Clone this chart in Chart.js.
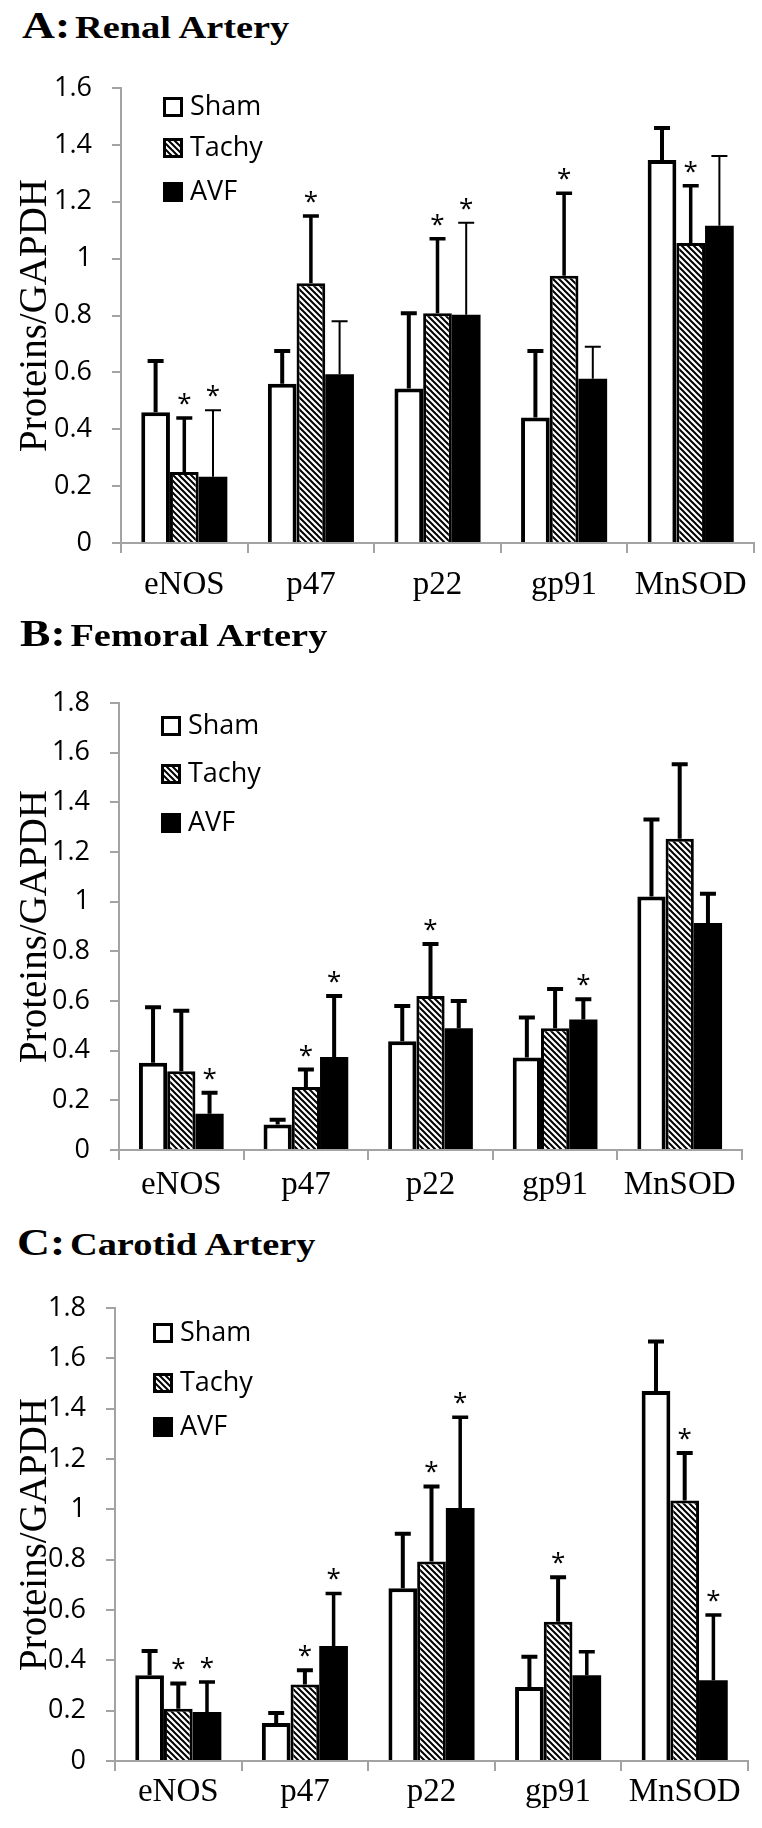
<!DOCTYPE html>
<html>
<head>
<meta charset="utf-8">
<script src="https://cdn.jsdelivr.net/npm/chart.js@4.4.1/dist/chart.umd.min.js"></script>
<style>
    body { margin: 0; background: #fff; width: 762px; height: 1828px; position: relative; overflow: hidden; }
    .title { position: absolute; font-family: "Liberation Serif", serif; font-weight: bold; white-space: nowrap; line-height: 38px; transform: scaleX(1.2); transform-origin: 0 0; }
    .title .tag { font-size: 38px; }
    .title .name { font-size: 32px; }
    canvas { position: absolute; left: 0; }
</style>
</head>
<body>
<div class="title" style="left:22px; top:6px"><span class="tag">A:</span> <span class="name">Renal Artery</span></div>
<canvas id="renal" width="762" height="570" style="top:50px"></canvas>
<div class="title" style="left:20px; top:614px"><span class="tag">B:</span> <span class="name">Femoral Artery</span></div>
<canvas id="femoral" width="762" height="560" style="top:660px"></canvas>
<div class="title" style="left:17px; top:1223px"><span class="tag">C:</span> <span class="name">Carotid Artery</span></div>
<canvas id="carotid" width="762" height="558" style="top:1270px"></canvas>

<script>
const genes = ["eNOS", "p47", "p22", "gp91", "MnSOD"]
const groups = ["Sham", "Tachy", "AVF"]
const noStars = [0, 0, 0, 0, 0]

// A: renal artery (mean, upper SD)
const renalSham = [0.46, 0.56, 0.543, 0.441, 1.347]
const renalShamSd = [0.18, 0.115, 0.265, 0.234, 0.112]
const renalTachy = [0.25, 0.913, 0.808, 0.94, 1.055]
const renalTachySd = [0.19, 0.237, 0.262, 0.29, 0.201]
const renalAvf = [0.233, 0.593, 0.803, 0.578, 1.116]
const renalAvfSd = [0.234, 0.187, 0.323, 0.112, 0.245]
const renalTachyStar = [1, 1, 1, 1, 1]
const renalAvfStar = [1, 0, 1, 0, 0]
const renalTicks = ["0", "0.2", "0.4", "0.6", "0.8", "1", "1.2", "1.4", "1.6"]

// B: femoral artery
const femoralSham = [0.351, 0.103, 0.438, 0.372, 1.021]
const femoralShamSd = [0.224, 0.019, 0.142, 0.162, 0.31]
const femoralTachy = [0.317, 0.254, 0.62, 0.49, 1.253]
const femoralTachySd = [0.244, 0.07, 0.21, 0.158, 0.3]
const femoralAvf = [0.146, 0.375, 0.49, 0.526, 0.914]
const femoralAvfSd = [0.085, 0.245, 0.11, 0.081, 0.118]
const femoralTachyStar = [0, 1, 1, 0, 0]
const femoralAvfStar = [1, 1, 0, 1, 0]
const femoralTicks = ["0", "0.2", "0.4", "0.6", "0.8", "1", "1.2", "1.4", "1.6", "1.8"]

// C: carotid artery
const carotidSham = [0.341, 0.151, 0.686, 0.294, 1.47]
const carotidShamSd = [0.096, 0.04, 0.217, 0.12, 0.197]
const carotidTachy = [0.208, 0.304, 0.793, 0.553, 1.035]
const carotidTachySd = [0.1, 0.057, 0.298, 0.177, 0.189]
const carotidAvf = [0.195, 0.457, 1.005, 0.341, 0.321]
const carotidAvfSd = [0.119, 0.209, 0.361, 0.093, 0.259]
const carotidTachyStar = [1, 1, 1, 1, 1]
const carotidAvfStar = [1, 1, 1, 0, 1]
const carotidTicks = ["0", "0.2", "0.4", "0.6", "0.8", "1", "1.2", "1.4", "1.6", "1.8"]

const axisGray = "#a3a3a3"
const sansFont = "'Open Sans'"

function makeHatch() {
    const c = document.createElement("canvas")
    c.width = 6
    c.height = 6
    const g = c.getContext("2d")
    g.fillStyle = "#fff"
    g.fillRect(0, 0, 6, 6)
    g.strokeStyle = "#000"
    g.lineWidth = 2
    g.beginPath()
    g.moveTo(-1, -1); g.lineTo(7, 7)
    g.moveTo(-1, 5); g.lineTo(1, 7)
    g.moveTo(5, -1); g.lineTo(7, 1)
    g.stroke()
    return g.createPattern(c, "repeat")
}

function makeChart(id, p) {
    const ctx = document.getElementById(id).getContext("2d")
    const fills = ["#fff", makeHatch(), "#000"]
    const borders = [4, 3, 0]

    const extras = {
        id: "extras",
        afterDatasetsDraw(chart) {
            const c = chart.ctx
            const y = chart.scales.y
            chart.data.datasets.forEach((ds, i) => {
                const meta = chart.getDatasetMeta(i)
                meta.data.forEach((bar, j) => {
                    const top = y.getPixelForValue(ds.data[j] + ds.sd[j])
                    c.save()
                    c.strokeStyle = "#000"
                    c.lineWidth = p.errWidth[i]
                    c.beginPath()
                    c.moveTo(bar.x, bar.y)
                    c.lineTo(bar.x, top)
                    c.moveTo(bar.x - 8, top)
                    c.lineTo(bar.x + 8, top)
                    c.stroke()
                    if (ds.stars[j]) {
                        c.fillStyle = "#000"
                        c.font = "26px " + sansFont
                        c.textAlign = "center"
                        c.textBaseline = "alphabetic"
                        const m = c.measureText("*")
                        const mid = (m.actualBoundingBoxAscent - m.actualBoundingBoxDescent) / 2
                        c.fillText("*", bar.x, top - 19 + mid)
                    }
                    c.restore()
                })
            })
        },
        afterDraw(chart) {
            // legend stacked inside the plot, top left
            const c = chart.ctx
            const area = chart.chartArea
            const bx = area.left + p.legendX
            chart.data.datasets.forEach((ds, i) => {
                const cy = area.top + p.legendY[i]
                c.save()
                c.fillStyle = ds.backgroundColor
                c.fillRect(bx, cy - 10, 20, 20)
                if (ds.borderWidth) {
                    c.lineWidth = 3
                    c.strokeStyle = "#000"
                    c.strokeRect(bx + 1.5, cy - 8.5, 17, 17)
                }
                c.fillStyle = "#000"
                c.font = "27px " + sansFont
                c.textAlign = "left"
                c.textBaseline = "middle"
                c.fillText(ds.label, bx + 27, cy)
                c.restore()
            })
        },
    }

    return new Chart(ctx, {
        type: "bar",
        data: {
            labels: genes,
            datasets: groups.map((g, i) => ({
                label: g,
                data: p.values[i],
                sd: p.sds[i],
                stars: p.stars[i],
                backgroundColor: fills[i],
                borderColor: "#000",
                borderWidth: borders[i],
                borderSkipped: "start",
                barPercentage: 1,
                categoryPercentage: 0.68,
            })),
        },
        options: {
            responsive: false,
            animation: false,
            events: [],
            layout: { padding: { top: p.top, right: p.right, left: 0, bottom: 0 } },
            plugins: { legend: { display: false }, tooltip: { enabled: false } },
            scales: {
                x: {
                    grid: { display: true, drawOnChartArea: false, tickLength: 10, color: axisGray, lineWidth: 2 },
                    border: { color: axisGray, width: 2 },
                    ticks: { color: "#000", font: { family: "Liberation Serif", size: 33 }, padding: p.labelPad },
                    afterFit: (s) => { s.height = p.bottom },
                },
                y: {
                    min: 0,
                    max: p.max,
                    ticks: {
                        stepSize: 0.2,
                        color: "#000",
                        font: { family: "Open Sans", size: 27 },
                        padding: 20,
                        callback: (v, i) => p.ticks[i],
                    },
                    grid: { drawOnChartArea: false, tickLength: 9, color: axisGray, lineWidth: 2 },
                    border: { color: axisGray, width: 2 },
                    title: {
                        display: true,
                        text: "Proteins/GAPDH",
                        color: "#000",
                        font: { family: "Liberation Serif", size: 39 },
                        padding: { top: 12, bottom: 0 },
                    },
                    afterFit: (s) => { s.width = p.left },
                },
            },
        },
        plugins: [extras],
    })
}

makeChart("renal", {
    values: [renalSham, renalTachy, renalAvf],
    sds: [renalShamSd, renalTachySd, renalAvfSd],
    stars: [noStars, renalTachyStar, renalAvfStar],
    ticks: renalTicks,
    max: 1.6,
    left: 121, right: 8, top: 38, bottom: 77,
    labelPad: 13,
    legendX: 42, legendY: [19, 60, 104],
    errWidth: [4, 3.5, 2],
})

makeChart("femoral", {
    values: [femoralSham, femoralTachy, femoralAvf],
    sds: [femoralShamSd, femoralTachySd, femoralAvfSd],
    stars: [noStars, femoralTachyStar, femoralAvfStar],
    ticks: femoralTicks,
    max: 1.8,
    left: 119, right: 20, top: 43, bottom: 70,
    labelPad: 6,
    legendX: 42, legendY: [23, 71, 120],
    errWidth: [4, 4, 4],
})

makeChart("carotid", {
    values: [carotidSham, carotidTachy, carotidAvf],
    sds: [carotidShamSd, carotidTachySd, carotidAvfSd],
    stars: [noStars, carotidTachyStar, carotidAvfStar],
    ticks: carotidTicks,
    max: 1.8,
    left: 115, right: 14, top: 38, bottom: 67,
    labelPad: 2,
    legendX: 38, legendY: [25, 75, 119],
    errWidth: [4, 4, 3.5],
})
</script>
</body>
</html>
